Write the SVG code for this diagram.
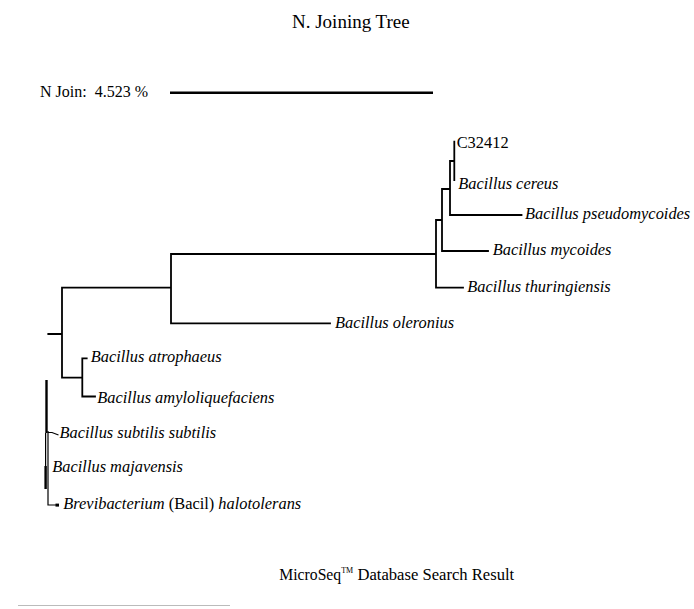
<svg xmlns="http://www.w3.org/2000/svg" width="694" height="609" viewBox="0 0 694 609">
<style>
text{font-family:"Liberation Serif","Times New Roman",serif;fill:#000}
.lbl{font-size:16.4px}
.it{font-style:italic}
.br{fill:none;stroke:#000;stroke-width:1.8;stroke-linecap:square}
.thick{fill:none;stroke:#000;stroke-width:2.4}
.thin{fill:none;stroke:#000;stroke-width:1.2}
</style>
<rect width="694" height="609" fill="#fff"/>
<g id="title"><text x="292" y="28.3" style="font-size:19px">N. Joining Tree</text></g>
<g id="scale">
<text x="40" y="96.7" style="font-size:16px" xml:space="preserve">N Join:  4.523 %</text>
<line x1="170" y1="92.7" x2="433" y2="92.7" stroke="#000" stroke-width="2.5"/>
</g>
<g id="connectors">
<path class="br" d="M454.3,141.7V180M450,161H454.3M450,161V215H521.5M442,189H450M442,189V251H488M436,220H442M436,220V287.7H463M171,254H436M171,254V323.3H330M62,287.7H171M48.3,334H62M62,287.7V377.7H82.3M82.3,358.3V396.5H95M82.3,358.3H86.7"/>
<line class="thick" x1="46.5" y1="380" x2="46.5" y2="433"/>
<line class="thin" x1="45.6" y1="433" x2="45.6" y2="489"/>
<line class="thick" x1="45.6" y1="466" x2="45.6" y2="489"/>
<polyline class="thin" points="48,431 48,505 58,505"/>
<polyline class="thin" points="48,432.5 52,432.5 58.5,435"/>
<rect x="55.5" y="503.6" width="3.5" height="3" fill="#000"/>
</g>
<g id="leaf-C32412"><text x="456.7" y="147.7" class="lbl">C32412</text></g>
<g id="leaf-cereus"><text x="458.3" y="189" class="lbl it">Bacillus cereus</text></g>
<g id="leaf-pseudomycoides"><text x="525" y="219.3" class="lbl it">Bacillus pseudomycoides</text></g>
<g id="leaf-mycoides"><text x="492.7" y="255" class="lbl it">Bacillus mycoides</text></g>
<g id="leaf-thuringiensis"><text x="467.3" y="291.7" class="lbl it">Bacillus thuringiensis</text></g>
<g id="leaf-oleronius"><text x="335" y="328.3" class="lbl it">Bacillus oleronius</text></g>
<g id="leaf-atrophaeus"><text x="90.7" y="361.7" class="lbl it">Bacillus atrophaeus</text></g>
<g id="leaf-amyloliquefaciens"><text x="97.3" y="402.7" class="lbl it">Bacillus amyloliquefaciens</text></g>
<g id="leaf-subtilis"><text x="59.5" y="438.3" class="lbl it">Bacillus subtilis subtilis</text></g>
<g id="leaf-majavensis"><text x="52.3" y="471.7" class="lbl it">Bacillus majavensis</text></g>
<g id="leaf-halotolerans"><text x="63.3" y="509.3" class="lbl"><tspan class="it">Brevibacterium</tspan> (Bacil) <tspan class="it">halotolerans</tspan></text></g>
<g id="footer">
<text x="279.3" y="579.5" style="font-size:15.7px">MicroSeq<tspan font-size="8" dy="-6.5">TM</tspan><tspan x="357.5" dy="6.5" font-size="16.6">Database Search Result</tspan></text>
<line x1="18" y1="605.5" x2="230" y2="605.5" stroke="#bbb" stroke-width="1"/>
</g>
</svg>
